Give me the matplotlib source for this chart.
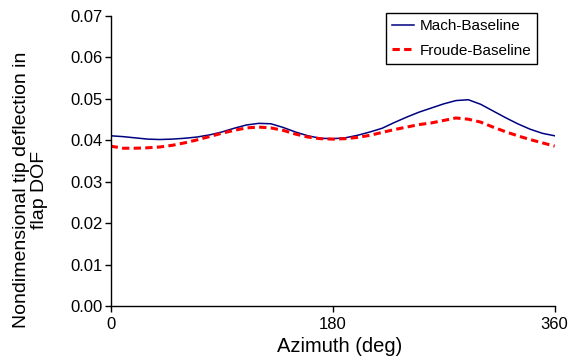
import matplotlib
matplotlib.use("Agg")
import matplotlib.pyplot as plt

azimuth = [0, 10, 20, 30, 40, 50, 60, 70, 80, 90, 100, 110, 120, 130, 140, 150, 160, 170, 180,
           190, 200, 210, 220, 230, 240, 250, 260, 270, 280, 290, 300, 310, 320, 330, 340, 350, 360]
mach = [0.0411, 0.0409, 0.0406, 0.0403, 0.0402, 0.0403, 0.0405, 0.0408, 0.0413, 0.0420,
        0.0429, 0.0437, 0.0441, 0.0440, 0.0431, 0.0420, 0.0411, 0.0405, 0.0404,
        0.0406, 0.0412, 0.0420, 0.0429, 0.0443, 0.0456, 0.0468, 0.0478, 0.0488, 0.0496,
        0.0498, 0.0487, 0.0471, 0.0455, 0.0440, 0.0427, 0.0417, 0.0411]
froude = [0.0386, 0.0381, 0.0381, 0.0382, 0.0384, 0.0388, 0.0394, 0.0401, 0.0409, 0.0417,
          0.0424, 0.0430, 0.0432, 0.0430, 0.0424, 0.0415, 0.0408, 0.0404, 0.0403,
          0.0404, 0.0407, 0.0412, 0.0419, 0.0426, 0.0432, 0.0438, 0.0442, 0.0448, 0.0454,
          0.0451, 0.0444, 0.0432, 0.0421, 0.0411, 0.0402, 0.0394, 0.0386]
x_ticks = [0, 180, 360]
y_ticks = [0.00, 0.01, 0.02, 0.03, 0.04, 0.05, 0.06, 0.07]

plt.rcParams["font.family"] = ["Liberation Sans", "DejaVu Sans"]

fig = plt.figure(figsize=(5.73, 3.64), dpi=100)
ax = fig.add_axes([0.193, 0.159, 0.775, 0.797])

ax.plot(azimuth, mach, color="#000080", linewidth=1.1, label="Mach-Baseline")
ax.plot(azimuth, froude, color="#ff0000", linewidth=2.2, linestyle=(0, (2.4, 1.4)),
        label="Froude-Baseline")

ax.set_xlim(0, 360)
ax.set_ylim(0, 0.07)
ax.set_xticks(x_ticks)
ax.set_yticks(y_ticks)
ax.set_yticklabels([f"{v:.2f}" for v in y_ticks])
ax.tick_params(labelsize=12, length=4, width=1, direction="out", pad=2)
ax.tick_params(axis="x", pad=4)
for side in ("top", "right"):
    ax.spines[side].set_visible(False)
for side in ("left", "bottom"):
    ax.spines[side].set_linewidth(1.0)

ax.set_xlabel("Azimuth (deg)", fontsize=14.5)
ax.xaxis.set_label_coords(0.516, -0.108)
ax.set_ylabel("Nondimensional tip deflection in\nflap DOF", fontsize=14, linespacing=1.05)
ax.yaxis.set_label_coords(-0.141, 0.400)

leg = ax.legend(loc="upper right", bbox_to_anchor=(0.961, 1.011), borderaxespad=0,
                fontsize=11, fancybox=False, edgecolor="black", framealpha=1,
                handlelength=1.45, handletextpad=0.35, borderpad=0.4, labelspacing=0.7)
leg.get_frame().set_linewidth(1.0)

fig.savefig("out.png", dpi=100)
